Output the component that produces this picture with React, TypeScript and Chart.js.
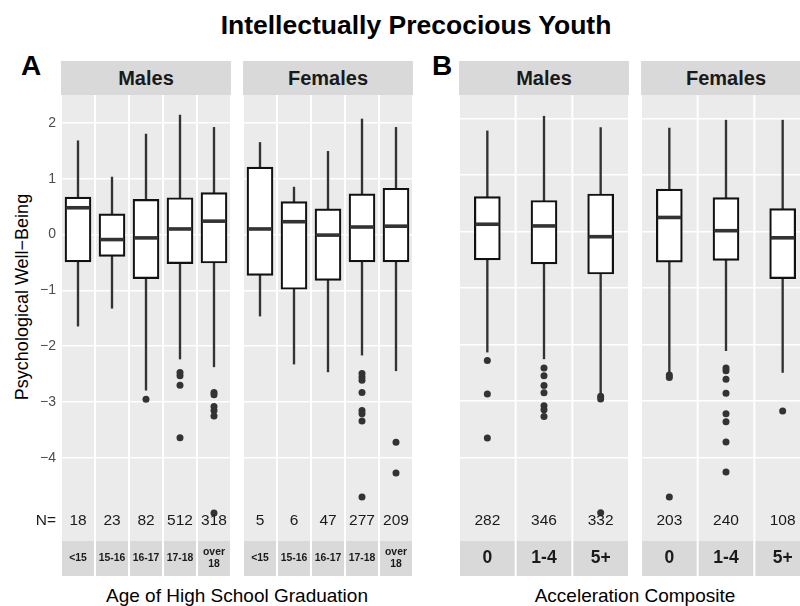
import React, { useEffect, useRef } from 'react';
import { Chart, registerables } from 'chart.js';

Chart.register(...registerables);

const FONT = '"Liberation Sans", Arial, Helvetica, sans-serif';
Chart.defaults.font.family = FONT;

// ---------- Panel A: Age of High School Graduation ----------
const ageCategories = ['<15', '15-16', '16-17', '17-18', 'over 18'];
const ageTickLabels: (string | string[])[] = ['<15', '15-16', '16-17', '17-18', ['over', '18']];

const ageMalesMin = [-1.64, -1.32, -2.79, -2.23, -2.37];
const ageMalesQ1 = [-0.49, -0.39, -0.79, -0.52, -0.51];
const ageMalesMedian = [0.48, -0.09, -0.06, 0.1, 0.24];
const ageMalesQ3 = [0.67, 0.37, 0.63, 0.66, 0.75];
const ageMalesMax = [1.68, 1.03, 1.8, 2.14, 1.92];
const ageMalesOutliers = [[], [], [-2.95], [-2.47, -2.53, -2.7, -3.64], [-2.83, -2.87, -3.08, -3.15, -3.25, -4.99]];
const ageMalesN = [18, 23, 82, 512, 318];

const ageFemalesMin = [-1.46, -2.32, -2.46, -2.16, -2.44];
const ageFemalesQ1 = [-0.73, -0.98, -0.82, -0.49, -0.49];
const ageFemalesMedian = [0.1, 0.23, -0.01, 0.135, 0.15];
const ageFemalesQ3 = [1.21, 0.59, 0.46, 0.73, 0.83];
const ageFemalesMax = [1.65, 0.85, 1.49, 2.07, 1.92];
const ageFemalesOutliers = [[], [], [], [-2.49, -2.55, -2.61, -2.83, -3.15, -3.21, -3.34, -4.7], [-3.72, -4.27]];
const ageFemalesN = [5, 6, 47, 277, 209];

// ---------- Panel B: Acceleration Composite ----------
const accCategories = ['0', '1-4', '5+'];
const accTickLabels: (string | string[])[] = ['0', '1-4', '5+'];

const accMalesMin = [-2.13, -2.25, -2.89];
const accMalesQ1 = [-0.5, -0.57, -0.75];
const accMalesMedian = [0.13, 0.1, -0.09];
const accMalesQ3 = [0.62, 0.55, 0.665];
const accMalesMax = [1.78, 2.04, 1.84];
const accMalesOutliers = [[-2.28, -2.87, -3.65], [-2.41, -2.55, -2.72, -2.85, -3.08, -3.15, -3.27], [-2.91, -2.96, -4.97]];
const accMalesN = [282, 346, 332];

const accFemalesMin = [-2.5, -2.105, -2.49];
const accFemalesQ1 = [-0.54, -0.51, -0.83];
const accFemalesMedian = [0.25, 0.016, -0.11];
const accFemalesQ3 = [0.75, 0.6, 0.405];
const accFemalesMax = [1.83, 1.97, 1.97];
const accFemalesOutliers = [[-2.535, -2.58, -4.69], [-2.41, -2.46, -2.61, -2.86, -3.22, -3.36, -3.72, -4.25], [-3.17]];
const accFemalesN = [203, 240, 108];

// ---------- Axes ----------
const yTickValues = [-4, -3, -2, -1, 0, 1, 2];
const nTickLabel = 'N=';
const ageYRange = [-5.49, 2.5];
const ageNPos = -5.13;
const accYRange = [-5.47, 2.415];
const accNPos = -5.11;

// layout constants
const PANEL_TOP = 95;
const PANEL_H = 446;
const STRIP_H = 35;
const PANEL_W = 170;
const PAD_T = 20;
const PAD_X = 10;
const GAP = 2;

type BoxProps = {
  cats: string[];
  labels: (string | string[])[];
  lo: number[];
  q1: number[];
  med: number[];
  q3: number[];
  hi: number[];
  outs: number[][];
  ns: number[];
  yRange: number[];
  nPos: number;
  axis: boolean;
  left: number;
  xFontSize: number;
  xPadding: number;
  xCross: 'near' | 'center';
};

function BoxPanel(p: BoxProps) {
  const ref = useRef<HTMLCanvasElement>(null);
  useEffect(() => {
    if (!ref.current) return;
    const outlierPts = p.outs.flatMap((arr, i) => arr.map((v) => ({ x: p.cats[i], y: v })));
    const extras = {
      id: 'boxExtras',
      beforeDraw(chart: any) {
        const { ctx, chartArea } = chart;
        const x = chart.scales.x;
        const step = p.cats.length > 1 ? x.getPixelForValue(1) - x.getPixelForValue(0) : chartArea.right - chartArea.left;
        ctx.save();
        for (let i = 0; i < p.cats.length; i++) {
          const c = x.getPixelForValue(i);
          const l = Math.max(chartArea.left, c - step / 2 + GAP / 2);
          const r = Math.min(chartArea.right, c + step / 2 - GAP / 2);
          ctx.fillStyle = '#ebebeb';
          ctx.fillRect(l, chartArea.top, r - l, chartArea.bottom - chartArea.top);
          ctx.fillStyle = '#d9d9d9';
          ctx.fillRect(l, chartArea.bottom, r - l, x.bottom - chartArea.bottom);
        }
        ctx.restore();
      },
      afterDatasetsDraw(chart: any) {
        const { ctx } = chart;
        const x = chart.scales.x;
        const y = chart.scales.y;
        ctx.save();
        ctx.strokeStyle = '#333333';
        ctx.lineWidth = 3.6;
        for (let i = 0; i < p.cats.length; i++) {
          const c = x.getPixelForValue(i);
          const py = y.getPixelForValue(p.med[i]);
          ctx.beginPath();
          ctx.moveTo(c - 12, py);
          ctx.lineTo(c + 12, py);
          ctx.stroke();
        }
        ctx.fillStyle = '#1a1a1a';
        ctx.font = `15.5px ${FONT}`;
        ctx.textAlign = 'center';
        ctx.textBaseline = 'middle';
        for (let i = 0; i < p.cats.length; i++) {
          ctx.fillText(String(p.ns[i]), x.getPixelForValue(i), y.getPixelForValue(p.nPos));
        }
        ctx.restore();
      },
    };
    const tickVals = p.axis ? [p.nPos, ...yTickValues] : [...yTickValues];
    const chart = new Chart(ref.current, {
      type: 'bar',
      data: {
        labels: p.cats,
        datasets: [
          {
            type: 'bar',
            label: 'whisker',
            data: p.cats.map((_, i) => [p.lo[i], p.hi[i]]),
            backgroundColor: '#333333',
            borderWidth: 0,
            barThickness: 1.7,
            grouped: false,
            order: 3,
          } as any,
          {
            type: 'bar',
            label: 'box',
            data: p.cats.map((_, i) => [p.q1[i], p.q3[i]]),
            backgroundColor: '#ffffff',
            borderColor: '#111111',
            borderWidth: 2.2,
            borderSkipped: false,
            barThickness: 26,
            grouped: false,
            order: 2,
          } as any,
          {
            type: 'scatter',
            label: 'outliers',
            data: outlierPts,
            pointRadius: 3.5,
            pointBackgroundColor: '#333333',
            pointBorderWidth: 0,
            order: 1,
          } as any,
        ],
      },
      options: {
        animation: false,
        responsive: true,
        maintainAspectRatio: false,
        layout: { padding: { top: PAD_T, left: p.axis ? 0 : PAD_X, right: PAD_X, bottom: 0 } },
        plugins: { legend: { display: false }, tooltip: { enabled: false } },
        scales: {
          x: {
            type: 'category',
            offset: true,
            grid: { display: false, drawTicks: false },
            border: { display: false },
            ticks: {
              autoSkip: false,
              maxRotation: 0,
              minRotation: 0,
              padding: p.xPadding,
              crossAlign: p.xCross,
              color: '#1a1a1a',
              font: { size: p.xFontSize, weight: 'bold', lineHeight: p.xFontSize > 12 ? 1.2 : 1.15 },
              callback: (_v: any, i: number) => p.labels[i],
            },
            afterFit: (s: any) => {
              s.height = STRIP_H;
            },
          },
          y: {
            type: 'linear',
            min: p.yRange[0],
            max: p.yRange[1],
            bounds: 'data',
            border: { display: false },
            grid: {
              drawTicks: false,
              lineWidth: 1.6,
              color: (ctx: any) => (ctx.tick && ctx.tick.value === p.nPos ? 'rgba(0,0,0,0)' : '#ffffff'),
            },
            ticks: {
              display: p.axis,
              padding: 5,
              color: (ctx: any) => (ctx.tick && ctx.tick.value === p.nPos ? '#1a1a1a' : '#4d4d4d'),
              font: (ctx: any) => ({ size: ctx.tick && ctx.tick.value === p.nPos ? 15.5 : 14 }),
              callback: (v: any) => (v === p.nPos ? nTickLabel : v < 0 ? '\u2212' + Math.abs(v) : String(v)),
            },
            afterBuildTicks: (s: any) => {
              s.ticks = tickVals.map((v) => ({ value: v }));
            },
            afterFit: (s: any) => {
              s.width = p.axis ? p.left : 0;
            },
          },
        },
      } as any,
      plugins: [extras],
    });
    return () => chart.destroy();
  }, []);

  const boxLeft = p.axis ? 0 : p.left - PAD_X;
  const boxWidth = p.axis ? p.left + PANEL_W + PAD_X : PANEL_W + 2 * PAD_X;
  return (
    <div
      style={{
        position: 'absolute',
        left: boxLeft,
        top: PANEL_TOP - PAD_T,
        width: boxWidth,
        height: PAD_T + PANEL_H + STRIP_H,
      }}
    >
      <canvas ref={ref} />
    </div>
  );
}

function Strip({ left, text }: { left: number; text: string }) {
  return (
    <div
      style={{
        position: 'absolute',
        left,
        top: 61,
        width: PANEL_W,
        height: 34,
        background: '#d9d9d9',
        color: '#1a1a1a',
        fontWeight: 'bold',
        fontSize: 20,
        display: 'flex',
        alignItems: 'center',
        justifyContent: 'center',
        lineHeight: 1,
      }}
    >
      {text}
    </div>
  );
}

function Label({ text, cx, cy, size, bold, color }: { text: string; cx: number; cy: number; size: number; bold?: boolean; color?: string }) {
  return (
    <div
      style={{
        position: 'absolute',
        left: cx - 300,
        width: 600,
        top: cy - 0.49 * size,
        textAlign: 'center',
        fontSize: size,
        lineHeight: 1,
        fontWeight: bold ? 'bold' : 'normal',
        color: color || '#000',
        whiteSpace: 'nowrap',
      }}
    >
      {text}
    </div>
  );
}

export default function App() {
  return (
    <div
      style={{
        position: 'absolute',
        left: 0,
        top: 0,
        width: 800,
        height: 606,
        overflow: 'hidden',
        background: '#ffffff',
        fontFamily: FONT,
      }}
    >
      <Label text="Intellectually Precocious Youth" cx={416} cy={24.5} size={26.5} bold />
      <div style={{ position: 'absolute', left: 21, top: 66 - 0.49 * 28, fontSize: 28, fontWeight: 'bold', lineHeight: 1 }}>A</div>
      <div style={{ position: 'absolute', left: 432, top: 66 - 0.49 * 28, fontSize: 28, fontWeight: 'bold', lineHeight: 1 }}>B</div>

      <Strip left={61} text="Males" />
      <Strip left={243} text="Females" />
      <Strip left={459} text="Males" />
      <Strip left={641} text="Females" />

      <div
        style={{
          position: 'absolute',
          left: 22,
          top: 297,
          transform: 'translate(-50%, -50%) rotate(-90deg)',
          whiteSpace: 'nowrap',
          fontSize: 18,
          lineHeight: 1,
          color: '#000',
        }}
      >
        Psychological Well{'\u2212'}Being
      </div>
      <Label text="Age of High School Graduation" cx={237} cy={595} size={19} />
      <Label text="Acceleration Composite" cx={635} cy={595} size={19} />

      <BoxPanel
        cats={ageCategories} labels={ageTickLabels}
        lo={ageMalesMin} q1={ageMalesQ1} med={ageMalesMedian} q3={ageMalesQ3} hi={ageMalesMax}
        outs={ageMalesOutliers} ns={ageMalesN}
        yRange={ageYRange} nPos={ageNPos} axis={true} left={61}
        xFontSize={10.4} xPadding={11.5} xCross="center"
      />
      <BoxPanel
        cats={ageCategories} labels={ageTickLabels}
        lo={ageFemalesMin} q1={ageFemalesQ1} med={ageFemalesMedian} q3={ageFemalesQ3} hi={ageFemalesMax}
        outs={ageFemalesOutliers} ns={ageFemalesN}
        yRange={ageYRange} nPos={ageNPos} axis={false} left={243}
        xFontSize={10.4} xPadding={11.5} xCross="center"
      />
      <BoxPanel
        cats={accCategories} labels={accTickLabels}
        lo={accMalesMin} q1={accMalesQ1} med={accMalesMedian} q3={accMalesQ3} hi={accMalesMax}
        outs={accMalesOutliers} ns={accMalesN}
        yRange={accYRange} nPos={accNPos} axis={false} left={459}
        xFontSize={17.5} xPadding={7} xCross="near"
      />
      <BoxPanel
        cats={accCategories} labels={accTickLabels}
        lo={accFemalesMin} q1={accFemalesQ1} med={accFemalesMedian} q3={accFemalesQ3} hi={accFemalesMax}
        outs={accFemalesOutliers} ns={accFemalesN}
        yRange={accYRange} nPos={accNPos} axis={false} left={641}
        xFontSize={17.5} xPadding={7} xCross="near"
      />
    </div>
  );
}
